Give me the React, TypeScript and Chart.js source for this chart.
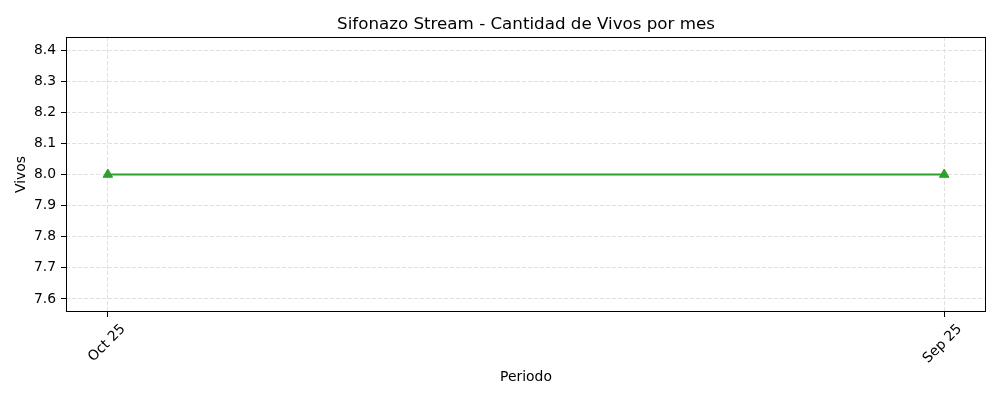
import React, { useEffect, useRef } from 'react';
import { Chart, registerables } from 'chart.js';

Chart.register(...registerables);

const TITLE = 'Sifonazo Stream - Cantidad de Vivos por mes';
const X_TITLE = 'Periodo';
const Y_TITLE = 'Vivos';
const periods = ['Oct 25', 'Sep 25'];
const vivos = [8, 8];
const yTicks = [7.6, 7.7, 7.8, 7.9, 8.0, 8.1, 8.2, 8.3, 8.4];
const Y_MIN = 7.558;
const Y_MAX = 8.442;

const FONT = 'DejaVu Sans';
const GREEN = '#2ca02c';

const framePlugin = {
  id: 'frame',
  afterDraw(chart: any) {
    const { ctx, chartArea: a } = chart;
    ctx.save();
    ctx.strokeStyle = '#000';
    ctx.lineWidth = 1;
    ctx.setLineDash([]);
    ctx.strokeRect(Math.round(a.left) + 0.5, Math.round(a.top) + 0.5, Math.round(a.right - a.left) - 1, Math.round(a.bottom - a.top) - 1);
    ctx.restore();
  },
};

export default function App() {
  const ref = useRef<HTMLCanvasElement | null>(null);
  useEffect(() => {
    if (!ref.current) return;
    const n = periods.length;
    const span = Math.max(n - 1, 1);
    const gridOpts = {
      color: '#e0e0e0',
      lineWidth: 1,
      drawTicks: true,
      tickLength: 5,
      tickColor: '#000',
      tickBorderDash: [],
      tickWidth: 1,
    };
    const chart = new Chart(ref.current, {
      type: 'line',
      data: {
        datasets: [
          {
            data: periods.map((_, i) => ({ x: i, y: vivos[i] })),
            borderColor: GREEN,
            backgroundColor: GREEN,
            borderWidth: 2,
            pointStyle: 'triangle',
            pointRadius: 5.5,
            pointBorderWidth: 1,
            pointBorderColor: GREEN,
            pointBackgroundColor: GREEN,
            tension: 0,
            fill: false,
          },
        ],
      },
      options: {
        animation: false,
        responsive: false,
        devicePixelRatio: 1,
        layout: { padding: { left: 0, right: 14, top: 0, bottom: 0 } },
        plugins: {
          legend: { display: false },
          tooltip: { enabled: false },
          title: {
            display: true,
            text: TITLE,
            fullSize: false,
            color: '#000',
            font: { family: FONT, size: 16.7, weight: 'normal' },
            padding: { top: 15, bottom: 2 },
          },
        },
        scales: {
          x: {
            type: 'linear',
            min: -0.05 * span,
            max: (n - 1) + 0.05 * span,
            afterBuildTicks: (scale: any) => {
              scale.ticks = periods.map((_, i) => ({ value: i }));
            },
            afterFit: (scale: any) => {
              scale.height = 88;
            },
            border: { display: false, dash: [4, 2] },
            grid: gridOpts,
            ticks: {
              autoSkip: false,
              minRotation: 45,
              maxRotation: 45,
              padding: 4,
              labelOffset: 15.5,
              color: '#000',
              font: { family: FONT, size: 13.9 },
              callback: (v: any) => periods[Math.round(Number(v))] ?? '',
            },
            title: {
              display: true,
              text: X_TITLE,
              color: '#000',
              font: { family: FONT, size: 13.9 },
              padding: { top: 0, bottom: 14.7 },
            },
          },
          y: {
            type: 'linear',
            min: Y_MIN,
            max: Y_MAX,
            afterBuildTicks: (scale: any) => {
              scale.ticks = yTicks.map((v) => ({ value: v }));
            },
            afterFit: (scale: any) => {
              scale.width = 66;
            },
            border: { display: false, dash: [4, 2] },
            grid: gridOpts,
            ticks: {
              padding: 5,
              color: '#000',
              font: { family: FONT, size: 13.9 },
              callback: (v: any) => Number(v).toFixed(1),
            },
            title: {
              display: true,
              text: Y_TITLE,
              color: '#000',
              font: { family: FONT, size: 13.9 },
              padding: { top: 12.7, bottom: 0 },
            },
          },
        },
      } as any,
      plugins: [framePlugin],
    });
    return () => chart.destroy();
  }, []);
  return (
    <div style={{ position: 'fixed', left: 0, top: 0, width: 1000, height: 400, background: '#fff' }}>
      <canvas ref={ref} width={1000} height={400} style={{ display: 'block', width: 1000, height: 400 }} />
    </div>
  );
}
